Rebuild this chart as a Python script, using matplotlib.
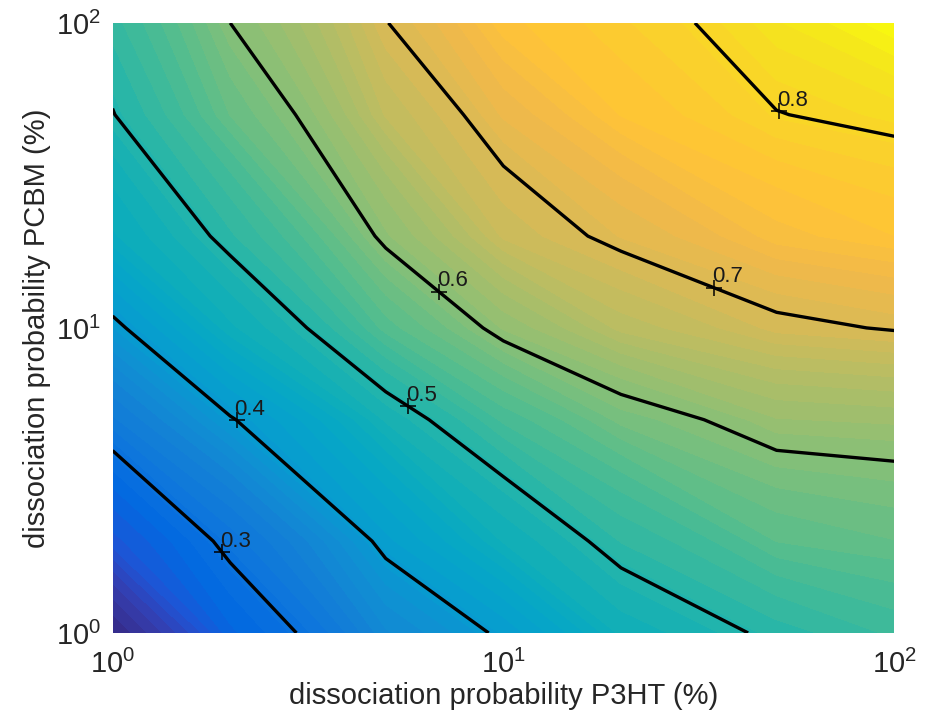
import numpy as np
import matplotlib
matplotlib.use("Agg")
import matplotlib.pyplot as plt
from matplotlib.colors import LinearSegmentedColormap
from matplotlib.ticker import NullLocator

# grid of dissociation probabilities (%)
p3ht = [1, 2, 5, 10, 20, 50, 100]
pcbm = [1, 2, 5, 10, 20, 50, 100]

# values on the grid, one row per PCBM value (rows: pcbm, cols: p3ht)
value = [
    [0.177, 0.272, 0.360, 0.408, 0.474, 0.509, 0.528],
    [0.249, 0.312, 0.413, 0.472, 0.515, 0.558, 0.568],
    [0.327, 0.398, 0.484, 0.539, 0.584, 0.622, 0.626],
    [0.394, 0.468, 0.552, 0.614, 0.660, 0.693, 0.703],
    [0.458, 0.512, 0.610, 0.680, 0.711, 0.749, 0.764],
    [0.499, 0.569, 0.668, 0.723, 0.765, 0.799, 0.812],
    [0.520, 0.600, 0.699, 0.761, 0.784, 0.828, 0.862],
]

line_levels = [0.3, 0.4, 0.5, 0.6, 0.7, 0.8]
# where the labels sit along each line (approx.)
label_at = [(1.94, 1.87), (2.2, 5.4), (5.8, 5.7), (7.3, 14.5), (35.3, 14.5), (51, 51.8)]

parula_rgb = [
    [0.2081, 0.1663, 0.5292], [0.2081, 0.2386, 0.6771], [0.1253, 0.3242, 0.8303],
    [0.0060, 0.4086, 0.8828], [0.0498, 0.4586, 0.8641], [0.0779, 0.5040, 0.8384],
    [0.0641, 0.5570, 0.8240], [0.0265, 0.6137, 0.8135], [0.0228, 0.6535, 0.7768],
    [0.0590, 0.6838, 0.7254], [0.1453, 0.7098, 0.6646], [0.2586, 0.7317, 0.5954],
    [0.3953, 0.7459, 0.5244], [0.5300, 0.7491, 0.4661], [0.6473, 0.7456, 0.4188],
    [0.7525, 0.7384, 0.3768], [0.8507, 0.7299, 0.3360], [0.9450, 0.7261, 0.2886],
    [0.9990, 0.7653, 0.2164], [0.9789, 0.8271, 0.1633], [0.9589, 0.8949, 0.1132],
    [0.9763, 0.9831, 0.0538],
]
parula = LinearSegmentedColormap.from_list("parula", parula_rgb)

plt.rcParams['font.family'] = ['Liberation Sans', 'DejaVu Sans']
plt.rcParams['mathtext.default'] = 'regular'

Z = np.array(value)

fig = plt.figure(figsize=(9.3, 7.25), dpi=100)
ax = fig.add_axes([0.121, 0.127, 0.8405, 0.8414])
ax.set_xscale('log')
ax.set_yscale('log')
ax.contourf(p3ht, pcbm, Z, levels=np.linspace(Z.min(), Z.max(), 64), cmap=parula)
cs = ax.contour(p3ht, pcbm, Z, levels=line_levels, colors='k', linewidths=2.4)
ax.set_xlim(1, 100)
ax.set_ylim(1, 100)

# matlab-style labels: '+' on the line, number up and to the right
for lev, path, (lx, ly) in zip(line_levels, cs.get_paths(), label_at):
    target = ax.transData.transform((lx, ly))
    best, bd = None, np.inf
    for poly in path.to_polygons(closed_only=False):
        d = ax.transData.transform(poly)
        for a, b in zip(d[:-1], d[1:]):
            ab = b - a
            t = np.clip(np.dot(target - a, ab) / max(np.dot(ab, ab), 1e-9), 0, 1)
            p = a + t * ab
            dist = np.hypot(*(p - target))
            if dist < bd:
                bd, best = dist, p
    mx, my = ax.transData.inverted().transform(best)
    ax.plot(mx, my, marker='+', color='k', ms=11, mew=1.1)
    ax.annotate(f'{lev:g}', (mx, my), xytext=(-1.5, 4), textcoords='offset points',
                ha='left', va='baseline', fontsize=16, color='#1a1a1a')

for a in (ax.xaxis, ax.yaxis):
    a.set_minor_locator(NullLocator())
ax.set_xticks([1, 10, 100], ['$10^{0}$', '$10^{1}$', '$10^{2}$'])
ax.set_yticks([1, 10, 100], ['$10^{0}$', '$10^{1}$', '$10^{2}$'])
ax.tick_params(length=0, labelsize=21, colors='#262626')
ax.tick_params(axis='x', pad=12)
ax.tick_params(axis='y', pad=8)
for s in ax.spines.values():
    s.set_visible(False)
ax.set_xlabel('dissociation probability P3HT (%)', fontsize=21, color='#262626', labelpad=2)
ax.set_ylabel('dissociation probability PCBM (%)', fontsize=21, color='#262626', labelpad=4)
fig.savefig('out.png', dpi=100)
